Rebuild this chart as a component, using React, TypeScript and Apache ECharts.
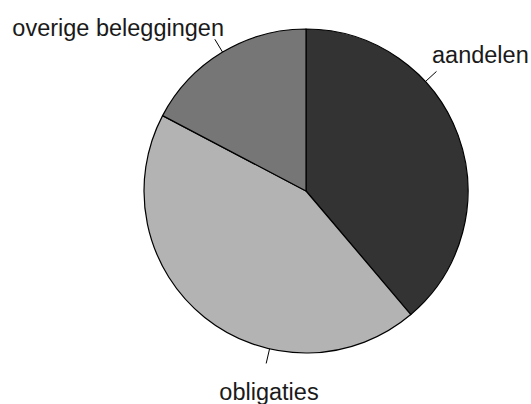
import React, { useEffect, useRef } from "react";
import * as echarts from "echarts";

const categories = ["aandelen", "obligaties", "overige beleggingen"];
const values = [38.8, 43.9, 17.3];
const colors = ["#333333", "#b3b3b3", "#767676"];

// label placement: leader-line angle (degrees clockwise from 12 o'clock), text anchor
const labelAngles = [47.5, 193, -31];
const labelAnchors: [number, number, string][] = [
  [432, 55, "left"],
  [269, 392, "center"],
  [224, 28, "right"],
];

const CX = 306;
const CY = 191;
const R = 162;

export default function App() {
  const ref = useRef<HTMLDivElement>(null);
  useEffect(() => {
    if (!ref.current) return;
    const chart = echarts.init(ref.current, null, { renderer: "svg" });
    const pt = (deg: number, r: number) => {
      const a = (deg * Math.PI) / 180;
      return [CX + r * Math.sin(a), CY - r * Math.cos(a)];
    };
    chart.setOption({
      animation: false,
      backgroundColor: "#ffffff",
      series: [
        {
          type: "pie",
          center: [CX, CY],
          radius: [0, R],
          startAngle: 90,
          clockwise: true,
          avoidLabelOverlap: false,
          data: categories.map((name, i) => ({
            name,
            value: values[i],
            itemStyle: { color: colors[i] },
          })),
          itemStyle: { borderColor: "#000000", borderWidth: 1.2 },
          emphasis: { disabled: true },
          label: {
            show: true,
            position: "outside",
            formatter: "{b}",
            fontFamily: "Liberation Sans, Arial, sans-serif",
            fontSize: 23.5,
            color: "#1a1a1a",
          },
          labelLine: {
            show: true,
            length: 10,
            length2: 0,
            lineStyle: { color: "#000000", width: 1 },
          },
          labelLayout: (params: any) => {
            const i = params.dataIndex;
            const ang = labelAngles[i];
            const p1 = pt(ang, R - 15);
            const p2 = pt(ang, R);
            const p3 = pt(ang, R + 15);
            const [x, y, align] = labelAnchors[i];
            return {
              x,
              y,
              align,
              verticalAlign: "middle",
              labelLinePoints: [p1, p2, p3],
            };
          },
        },
      ],
    });
    return () => chart.dispose();
  }, []);
  return (
    <div
      ref={ref}
      style={{ position: "fixed", left: 0, top: 0, width: 531, height: 404 }}
    />
  );
}
